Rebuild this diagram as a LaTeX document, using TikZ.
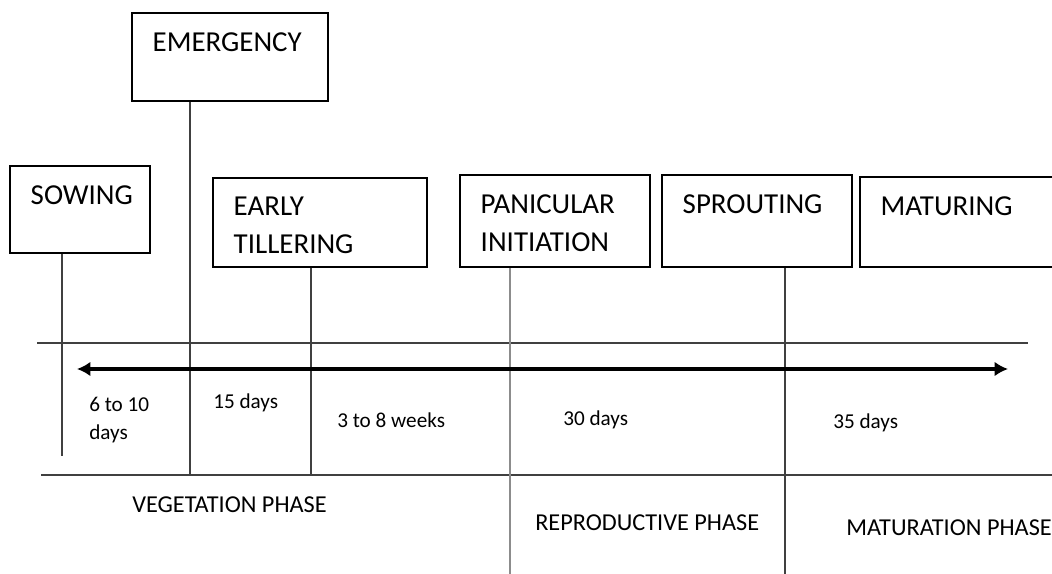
\documentclass[tikz,border=0pt]{standalone}
\usepackage{fontspec}
\setmainfont{Carlito}
\usepackage{tikz}
\usetikzlibrary{arrows.meta,positioning}

\tikzset{
  stagebox/.style={draw=black,line width=1.3pt,inner sep=0pt},
  stagetext/.style={anchor=north west,align=left,inner xsep=16pt,inner ysep=15pt,
    font=\fontsize{21.7}{28.5}\selectfont},
  tick/.style={draw=black!75,line width=1.2pt},
  span/.style={anchor=base west,inner sep=0pt,font=\fontsize{15.9}{21}\selectfont},
  phase/.style={anchor=base west,inner sep=0pt,font=\fontsize{18.2}{20}\selectfont}
}

\begin{document}
\begin{tikzpicture}[x=0.75pt,y=-0.75pt]
        \useasboundingbox (0,0) rectangle (1052,574);
        \clip (0,0) rectangle (1052,574);
        % stages
        \node[stagebox,minimum width=105pt,minimum height=65.25pt] (sowing) at (80,209.5) {};
        \node[stagebox,minimum width=147pt,minimum height=66pt] (emergency) at (230,57) {};
        \node[stagebox,minimum width=160.5pt,minimum height=66.75pt] (tillering) at (320,222.5) {};
        \node[stagebox,minimum width=142.5pt,minimum height=69pt] (panicle) at (555,221) {};
        \node[stagebox,minimum width=142.5pt,minimum height=69pt] (sprouting) at (757,221) {};
        \node[stagebox,minimum width=157.5pt,minimum height=67.5pt] (maturing) at (965,222) {};
        \node[stagetext] at (sowing.north west) {SOWING};
        \node[stagetext] at (emergency.north west) {EMERGENCY};
        \node[stagetext] at (tillering.north west) {EARLY\\TILLERING};
        \node[stagetext] at (panicle.north west) {PANICULAR\\INITIATION};
        \node[stagetext] at (sprouting.north west) {SPROUTING};
        \node[stagetext] at (maturing.north west) {MATURING};
        % time line
        \coordinate (top west) at (37,343);
        \coordinate (top east) at (1028,343);
        \coordinate (low west) at (41,475);
        \coordinate (low east) at (1052,475);
        \coordinate (arrow west) at (77,369);
        \coordinate (arrow east) at (1008,369);
        \coordinate (sowing end) at (62,456);
        \coordinate (emergency end) at (190,475);
        \coordinate (tillering end) at (311,475);
        \coordinate (panicle end) at (510,574);
        \coordinate (sprouting end) at (785,574);
        \draw[tick] (top west) -- (top east);
        \draw[tick] (low west) -- (low east);
        \draw[tick] (sowing.south -| sowing end) -- (sowing end);
        \draw[tick] (emergency.south -| emergency end) -- (emergency end);
        \draw[tick] (tillering.south -| tillering end) -- (tillering end);
        \draw[tick,draw=black!45] (panicle.south -| panicle end) -- (panicle end);
        \draw[tick] (sprouting.south -| sprouting end) -- (sprouting end);
        \draw[line width=2.4pt,{Latex[length=10pt,width=11pt]}-{Latex[length=10pt,width=11pt]}]
          (arrow west) -- (arrow east);
        % durations and phases
        \node[span,anchor=north west,align=left] (d1) at (89,397) {6 to 10\\days};
        \node[span] (d2) at (213,408) {15 days};
        \node[span] (d3) at (337,427) {3 to 8 weeks};
        \node[span] (d4) at (563,425) {30 days};
        \node[span] (d5) at (833,428) {35 days};
        \node[phase] (veg) at (132,512) {VEGETATION PHASE};
        \node[phase] (rep) at (535,530) {REPRODUCTIVE PHASE};
        \node[phase] (mat) at (846,535) {MATURATION PHASE};
\end{tikzpicture}
\end{document}
